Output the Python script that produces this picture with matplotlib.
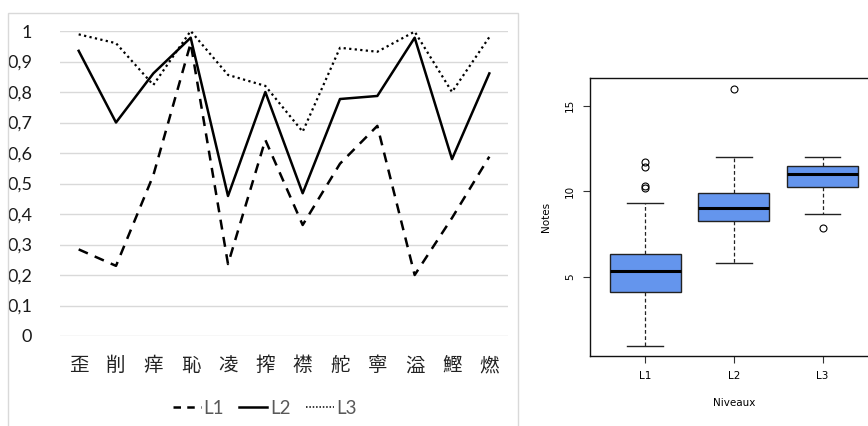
import matplotlib.pyplot as plt
from matplotlib.patches import Rectangle
from matplotlib.lines import Line2D

# left panel: three series over twelve characters
categories = ['歪', '削', '痒', '恥', '凌', '搾', '襟', '舵', '寧', '溢', '鰹', '燃']
l1 = [0.284, 0.23, 0.527, 0.96, 0.236, 0.643, 0.364, 0.565, 0.689, 0.20, 0.387, 0.588]
l2 = [0.935, 0.70, 0.861, 0.978, 0.459, 0.80, 0.468, 0.777, 0.787, 0.978, 0.58, 0.861]
l3 = [0.989, 0.96, 0.823, 1.0, 0.856, 0.82, 0.67, 0.945, 0.932, 0.998, 0.80, 0.98]
y_ticks = [0, 0.1, 0.2, 0.3, 0.4, 0.5, 0.6, 0.7, 0.8, 0.9, 1]

# right panel: box statistics
levels = ['L1', 'L2', 'L3']
q1 = [4.16, 8.26, 10.27]
med = [5.33, 9.01, 11.01]
q3 = [6.34, 9.9, 11.5]
whis_lo = [1.0, 5.85, 8.69]
whis_hi = [9.34, 12.0, 12.0]
fliers = [[10.2, 10.3, 11.4, 11.7], [16.0], [7.85]]

W, H = 868, 426
fig = plt.figure(figsize=(W / 100, H / 100), dpi=100)

# light frame of the Excel chart
fig.patches.append(Rectangle((8 / W, -0.05), 510 / W, (H - 13) / H + 0.05,
                             transform=fig.transFigure, fill=False,
                             edgecolor='#d9d9d9', linewidth=1.0))

ax = fig.add_axes([60 / W, (H - 336) / H, 448 / W, 305 / H])
x = list(range(len(categories)))
ax.plot(x, l1, color='black', linewidth=1.8, linestyle=(0, (4, 3)))
ax.plot(x, l2, color='black', linewidth=1.8, linestyle='-')
ax.plot(x, l3, color='black', linewidth=1.6, linestyle=(0, (1, 1.5)))
ax.set_xlim(-0.5, len(categories) - 0.5)
ax.set_ylim(0, 1)
ax.set_yticks(y_ticks)
ax.set_yticklabels([('%g' % v).replace('.', ',') for v in y_ticks],
                   fontfamily='Lato', fontsize=13, color='#1a1a1a')
ax.set_xticks(x)
ax.set_xticklabels(categories, fontfamily='Noto Sans CJK JP', fontsize=14,
                   color='#222222')
ax.tick_params(axis='both', length=0)
ax.tick_params(axis='y', pad=20)
ax.tick_params(axis='x', pad=14)
ax.grid(axis='y', color='#d9d9d9', linewidth=1.0)
ax.set_axisbelow(True)
for s in ax.spines.values():
    s.set_visible(False)

handles = [Line2D([], [], color='black', linewidth=1.8, linestyle=(0, (3, 2.5))),
           Line2D([], [], color='black', linewidth=1.8),
           Line2D([], [], color='black', linewidth=1.1, linestyle=(0, (1, 1.2)))]
leg = fig.legend(handles, levels, loc='center', bbox_to_anchor=(265 / W, (H - 408) / H),
                 ncol=3, frameon=False, handlelength=1.5, handletextpad=0.15,
                 columnspacing=0.8, prop={'family': 'Lato', 'size': 13.5})
for t in leg.get_texts():
    t.set_color('#595959')

# right panel: R-style boxplot
bx = fig.add_axes([590 / W, (H - 356) / H, 287.7 / W, 277.7 / H])
stats = []
for i in range(len(levels)):
    stats.append({'label': levels[i], 'q1': q1[i], 'med': med[i], 'q3': q3[i],
                  'whislo': whis_lo[i], 'whishi': whis_hi[i], 'fliers': fliers[i]})
bx.bxp(stats, positions=[1, 2, 3], widths=0.8, patch_artist=True,
       boxprops=dict(facecolor='#6495ED', edgecolor='#222222', linewidth=1.0),
       medianprops=dict(color='black', linewidth=2.2),
       whiskerprops=dict(color='#222222', linewidth=0.9, linestyle=(0, (3, 2))),
       capprops=dict(color='#222222', linewidth=1.0),
       flierprops=dict(marker='o', markerfacecolor='none', markeredgecolor='black',
                       markersize=5, markeredgewidth=0.8),
       capwidths=0.4)
bx.set_xlim(0.38, 3.62)
bx.set_ylim(0.4, 16.6)
bx.set_yticks([5, 10, 15])
bx.set_yticklabels(['5', '10', '15'], rotation=90, va='center', fontsize=7.5)
bx.set_xticks([1, 2, 3])
bx.set_xticklabels(levels, fontsize=7.5)
bx.tick_params(axis='both', length=5, width=0.8, color='#333333', pad=6)
bx.set_ylabel('Notes', fontsize=7.5, labelpad=10)
bx.set_xlabel('Niveaux', fontsize=7.5, labelpad=12)
for s in bx.spines.values():
    s.set_linewidth(1.0)
    s.set_color('#111111')

fig.savefig('out.png', dpi=100)
